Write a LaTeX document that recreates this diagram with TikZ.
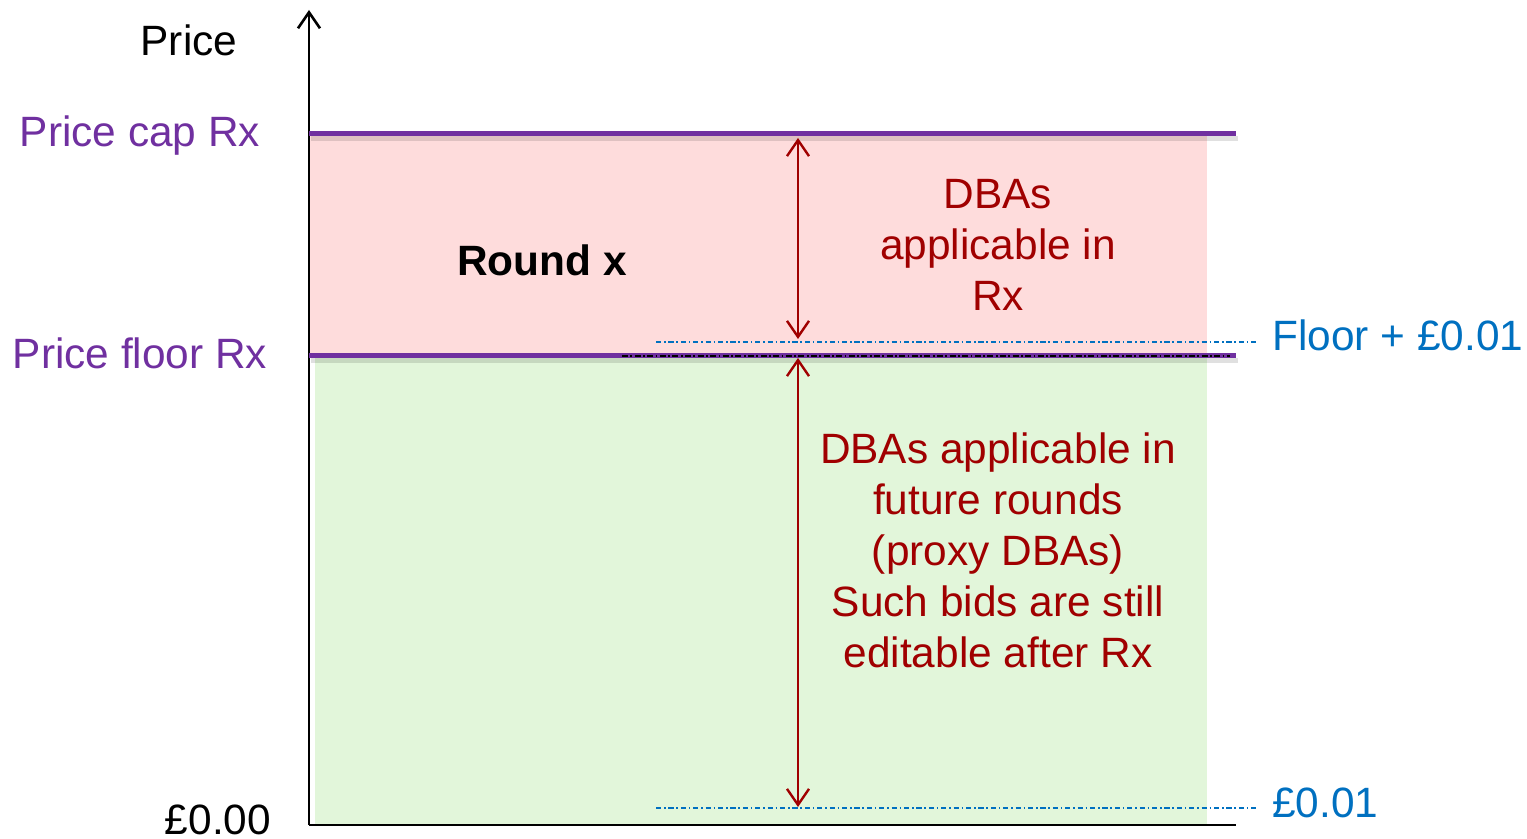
\documentclass[tikz,border=0pt]{standalone}
\usepackage{fontspec}
\setmainfont{Liberation Sans}
\usetikzlibrary{arrows.meta}
\definecolor{capcol}{HTML}{7030A0}
\definecolor{pinkfill}{HTML}{FEDCDC}
\definecolor{greenfill}{HTML}{E2F6DA}
\definecolor{bluecol}{HTML}{0070C0}
\definecolor{redcol}{HTML}{A00000}
\tikzset{
  lbl/.style={font=\fontsize{21.2}{25.5}\selectfont, inner sep=0pt},
  purpleline/.style={draw=capcol, line width=2.5pt},
  shadowline/.style={draw=black, opacity=0.12, line width=2.5pt},
  bluedash/.style={draw=bluecol, line width=0.8pt, dash pattern=on 2.6pt off 1.4pt on 0.8pt off 1.4pt},
  blackdash/.style={draw=black, line width=1pt, dash pattern=on 3pt off 1.2pt on 0.9pt off 1.2pt},
  dbl/.style={draw=redcol, line width=1.2pt, {Straight Barb[length=8pt,width=11pt]}-{Straight Barb[length=8pt,width=11pt]}},
}
\begin{document}
\begin{tikzpicture}[x=0.5pt,y=-0.5pt]
\useasboundingbox (0,0) rectangle (1527,839);
% fills
\fill[pinkfill] (309,135) rectangle (1207,356);
\fill[greenfill] (315,356) rectangle (1207,825);
% axes
\coordinate (origin) at (309,825);
\coordinate (ytop) at (309,10);
\coordinate (xend) at (1236,825);
\draw[line width=1.3pt, -{Straight Barb[length=8pt,width=11pt]}] (origin) -- (ytop);
\draw[line width=1.4pt] (origin) -- (xend);
% shadows
\draw[shadowline] (311,139) -- (1238,139);
\draw[shadowline] (311,361) -- (1238,361);
% purple lines
\coordinate (capL) at (309,134);
\coordinate (capR) at (1236,134);
\coordinate (floorL) at (309,356);
\coordinate (floorR) at (1236,356);
\draw[purpleline] (capL) -- (capR);
\draw[purpleline] (floorL) -- (floorR);
\draw[blackdash] (622,356) -- (1230,356);
% blue dashed levels
\coordinate (b1L) at (656,342);
\coordinate (b1R) at (1258,342);
\coordinate (b2L) at (656,808);
\coordinate (b2R) at (1258,808);
\draw[bluedash] (b1L) -- (b1R);
\draw[bluedash] (b2L) -- (b2R);
% red arrows
\coordinate (a1t) at (798,138);
\coordinate (a1b) at (798,339);
\coordinate (a2t) at (798,358);
\coordinate (a2b) at (798,807);
\draw[dbl] (a1t) -- (a1b);
\draw[dbl] (a2t) -- (a2b);
% labels
\node[lbl, anchor=base] (price) at (189,56) {Price};
\node[lbl, anchor=base, text=capcol] (caplbl) at (140,147) {Price cap Rx};
\node[lbl, anchor=base, text=capcol] (floorlbl) at (140,369) {Price floor Rx};
\node[lbl, anchor=base] (zero) at (218,834) {£0.00};
\node[lbl, anchor=base, font=\fontsize{21.2}{25.5}\selectfont\bfseries] (round) at (542,276) {Round x};
\node[lbl, anchor=north, text=redcol, align=center] (dba1) at (998,178.6) {DBAs\\applicable in\\Rx};
\node[lbl, anchor=north, text=redcol, align=center] (dba2) at (998,432.6) {DBAs applicable in\\future rounds\\(proxy DBAs)\\Such bids are still\\editable after Rx};
\node[lbl, anchor=base west, text=bluecol] (fl) at (1272,351) {Floor + £0.01};
\node[lbl, anchor=base west, text=bluecol] (p01) at (1272,817) {£0.01};
\end{tikzpicture}
\end{document}
